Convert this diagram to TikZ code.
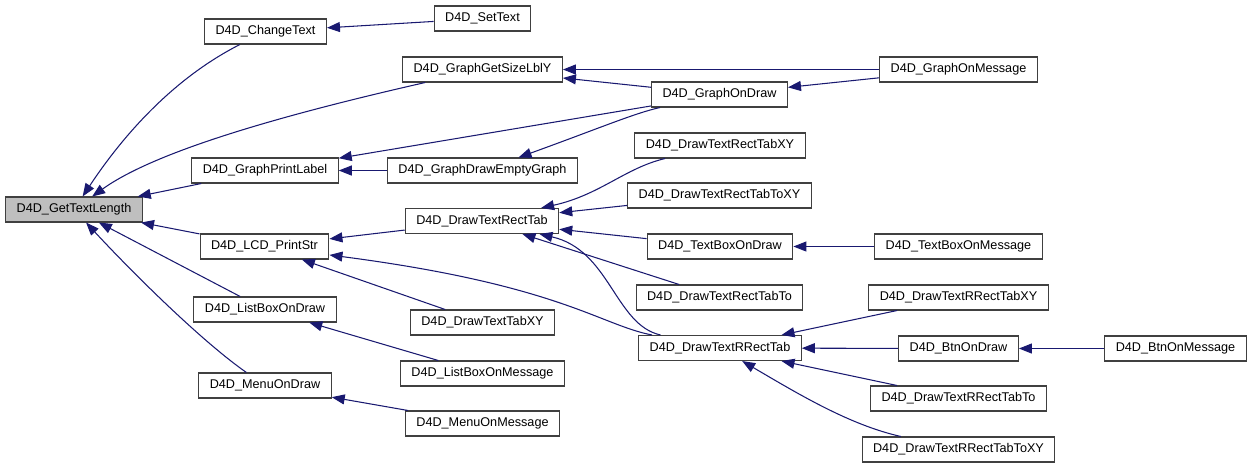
\documentclass[tikz,border=0pt]{standalone}
\usepackage{fontspec}
\setmainfont{Liberation Sans}
\usetikzlibrary{arrows.meta}
\definecolor{edgeblue}{RGB}{25,25,112}
\begin{document}
\begin{tikzpicture}[x=0.02cm, y=-0.02cm,
    fn/.style={rectangle, draw=black!75, line width=0.6pt, fill=white, minimum height=0.5cm, inner xsep=0.22cm, inner ysep=0pt, font=\fontsize{7.2}{8.6}\selectfont},
    call/.style={draw=edgeblue, line width=0.6pt, -{Triangle[length=0.26cm, width=0.2cm]}}]
    \useasboundingbox (0,0) rectangle (1253,468);
    \node[fn, fill=black!25] (gtl) at (74,209.5) {D4D\_GetTextLength};
    \node[fn] (chtext) at (265.5,31.5) {D4D\_ChangeText};
    \node[fn] (prlabel) at (265,170.5) {D4D\_GraphPrintLabel};
    \node[fn] (lcd) at (264.5,246.5) {D4D\_LCD\_PrintStr};
    \node[fn] (lbdraw) at (265,309.5) {D4D\_ListBoxOnDraw};
    \node[fn] (mndraw) at (265,385.5) {D4D\_MenuOnDraw};
    \node[fn] (settext) at (482.5,18.5) {D4D\_SetText};
    \node[fn] (sizely) at (482.5,69.5) {D4D\_GraphGetSizeLblY};
    \node[fn] (empty) at (482.5,170.5) {D4D\_GraphDrawEmptyGraph};
    \node[fn] (rtab) at (482,221) {D4D\_DrawTextRectTab};
    \node[fn] (tabxy) at (482.5,322.5) {D4D\_DrawTextTabXY};
    \node[fn] (lbmsg) at (482.5,373.5) {D4D\_ListBoxOnMessage};
    \node[fn] (mnmsg) at (482.5,423.5) {D4D\_MenuOnMessage};
    \node[fn] (grdraw) at (719.5,94.5) {D4D\_GraphOnDraw};
    \node[fn] (rtabxy) at (720,145.5) {D4D\_DrawTextRectTabXY};
    \node[fn] (rtabtoxy) at (719.5,195.5) {D4D\_DrawTextRectTabToXY};
    \node[fn] (tbdraw) at (720,246.5) {D4D\_TextBoxOnDraw};
    \node[fn] (rtabto) at (719.5,297.5) {D4D\_DrawTextRectTabTo};
    \node[fn] (rrtab) at (720,348) {D4D\_DrawTextRRectTab};
    \node[fn] (grmsg) at (958.5,69.5) {D4D\_GraphOnMessage};
    \node[fn] (tbmsg) at (958.5,246.5) {D4D\_TextBoxOnMessage};
    \node[fn] (rrtabxy) at (958.5,297.5) {D4D\_DrawTextRRectTabXY};
    \node[fn] (btndraw) at (958.5,348.5) {D4D\_BtnOnDraw};
    \node[fn] (rrtabto) at (958.5,398.5) {D4D\_DrawTextRRectTabTo};
    \node[fn] (rrtabtoxy) at (958.5,449.5) {D4D\_DrawTextRRectTabToXY};
    \node[fn] (btnmsg) at (1175.5,348.5) {D4D\_BtnOnMessage};
    \draw[call] (chtext) .. controls (170,80) and (120,140) .. (gtl);
    \draw[call] (sizely) .. controls (260,120) and (150,155) .. (gtl);
    \draw[call] (prlabel) -- (gtl);
    \draw[call] (lcd) -- (gtl);
    \draw[call] (lbdraw) -- (gtl);
    \draw[call] (mndraw) .. controls (200,340) and (130,270) .. (gtl);
    \draw[call] (settext) -- (chtext);
    \draw[call] (grmsg) -- (sizely);
    \draw[call] (grdraw) -- (sizely);
    \draw[call] (grmsg) -- (grdraw);
    \draw[call] (grdraw) -- (prlabel);
    \draw[call] (empty) -- (prlabel);
    \draw[call] (grdraw) .. controls (635,113) and (600,128) .. (empty);
    \draw[call] (rtab) -- (lcd);
    \draw[call] (rrtab) .. controls (600,325) and (560,285) .. (lcd);
    \draw[call] (tabxy) -- (lcd);
    \draw[call] (rtabxy) .. controls (625,168) and (600,195) .. (rtab);
    \draw[call] (rtabtoxy) -- (rtab);
    \draw[call] (tbdraw) -- (rtab);
    \draw[call] (rtabto) -- (rtab);
    \draw[call] (rrtab) .. controls (615,325) and (610,250) .. (rtab);
    \draw[call] (tbmsg) -- (tbdraw);
    \draw[call] (lbmsg) -- (lbdraw);
    \draw[call] (mnmsg) -- (mndraw);
    \draw[call] (rrtabxy) -- (rrtab);
    \draw[call] (btndraw) -- (rrtab);
    \draw[call] (rrtabto) -- (rrtab);
    \draw[call] (rrtabtoxy) .. controls (850,425) and (800,395) .. (rrtab);
    \draw[call] (btnmsg) -- (btndraw);
\end{tikzpicture}
\end{document}
